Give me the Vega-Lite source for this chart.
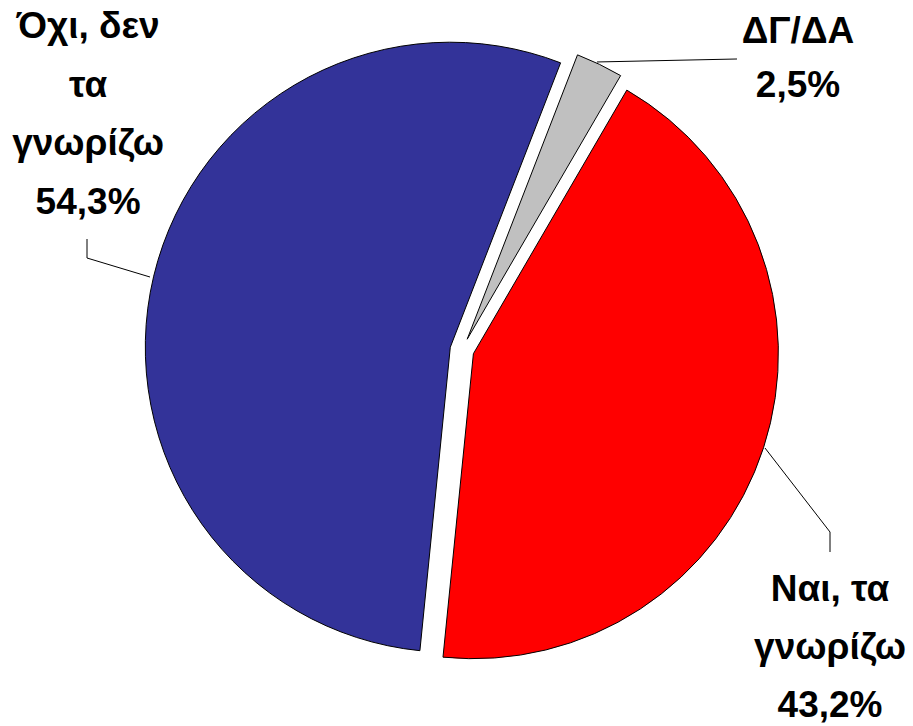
{
  "$schema": "https://vega.github.io/schema/vega-lite/v6.json",
  "width": 902,
  "height": 700,
  "autosize": {"type": "none"},
  "padding": {"left": 11, "top": 0, "right": 0, "bottom": 26},
  "background": "white",
  "config": {"view": {"stroke": null}, "text": {"font": "Liberation Sans"}},
  "data": {"values": [
    {"category": "Ναι, τα γνωρίζω", "key": "yes", "value": 43.2, "order": 1, "label": "Ναι, τα\nγνωρίζω\n43,2%"},
    {"category": "Όχι, δεν τα γνωρίζω", "key": "no", "value": 54.3, "order": 2, "label": "Όχι, δεν\nτα\nγνωρίζω\n54,3%"},
    {"category": "ΔΓ/ΔΑ", "key": "dk", "value": 2.5, "order": 3, "label": "ΔΓ/ΔΑ\n2,5%"}
  ]},
  "transform": [
    {"stack": "value", "groupby": [], "sort": [{"field": "order", "order": "ascending"}], "as": ["v0", "v1"]}
  ],
  "layer": [
    {
      "transform": [{"filter": "datum.key === 'yes'"}],
      "mark": {"type": "arc", "outerRadius": 305, "stroke": "black", "strokeWidth": 1, "xOffset": 11.4, "yOffset": 3.7},
      "encoding": {
        "theta": {"field": "v0", "type": "quantitative", "scale": {"domain": [0, 100], "range": [0.5271, 6.8103]}},
        "theta2": {"field": "v1"},
        "color": {"field": "category", "type": "nominal", "scale": {"domain": ["Ναι, τα γνωρίζω", "Όχι, δεν τα γνωρίζω", "ΔΓ/ΔΑ"], "range": ["#FF0000", "#333399", "#C0C0C0"]}, "legend": null}
      }
    },
    {
      "transform": [{"filter": "datum.key === 'no'"}],
      "mark": {"type": "arc", "outerRadius": 305, "stroke": "black", "strokeWidth": 1, "xOffset": -11.7, "yOffset": -2.8},
      "encoding": {
        "theta": {"field": "v0", "type": "quantitative", "scale": {"domain": [0, 100], "range": [0.5271, 6.8103]}},
        "theta2": {"field": "v1"},
        "color": {"field": "category", "type": "nominal", "scale": {"domain": ["Ναι, τα γνωρίζω", "Όχι, δεν τα γνωρίζω", "ΔΓ/ΔΑ"], "range": ["#FF0000", "#333399", "#C0C0C0"]}, "legend": null}
      }
    },
    {
      "transform": [{"filter": "datum.key === 'dk'"}],
      "mark": {"type": "arc", "outerRadius": 305, "stroke": "black", "strokeWidth": 1, "xOffset": 5.2, "yOffset": -10.8},
      "encoding": {
        "theta": {"field": "v0", "type": "quantitative", "scale": {"domain": [0, 100], "range": [0.5271, 6.8103]}},
        "theta2": {"field": "v1"},
        "color": {"field": "category", "type": "nominal", "scale": {"domain": ["Ναι, τα γνωρίζω", "Όχι, δεν τα γνωρίζω", "ΔΓ/ΔΑ"], "range": ["#FF0000", "#333399", "#C0C0C0"]}, "legend": null}
      }
    },
    {
      "transform": [{"filter": "datum.key === 'no'"}],
      "mark": {"type": "rule", "stroke": "black", "strokeWidth": 1},
      "encoding": {
        "x": {"datum": -1.2295, "type": "quantitative", "scale": {"domain": [-1.4787, 1.4787], "nice": false, "zero": false}, "axis": null},
        "y": {"datum": 0.3639, "type": "quantitative", "scale": {"domain": [-1.1475, 1.1475], "nice": false, "zero": false}, "axis": null},
        "x2": {"datum": -1.2295},
        "y2": {"datum": 0.3016}
      }
    },
    {
      "transform": [{"filter": "datum.key === 'no'"}],
      "mark": {"type": "rule", "stroke": "black", "strokeWidth": 1},
      "encoding": {
        "x": {"datum": -1.2295, "type": "quantitative"},
        "y": {"datum": 0.3016, "type": "quantitative"},
        "x2": {"datum": -1.023},
        "y2": {"datum": 0.2393}
      }
    },
    {
      "transform": [{"filter": "datum.key === 'yes'"}],
      "mark": {"type": "rule", "stroke": "black", "strokeWidth": 1},
      "encoding": {
        "x": {"datum": 0.9934, "type": "quantitative"},
        "y": {"datum": -0.3213, "type": "quantitative"},
        "x2": {"datum": 1.2066},
        "y2": {"datum": -0.5967}
      }
    },
    {
      "transform": [{"filter": "datum.key === 'yes'"}],
      "mark": {"type": "rule", "stroke": "black", "strokeWidth": 1},
      "encoding": {
        "x": {"datum": 1.2066, "type": "quantitative"},
        "y": {"datum": -0.5967, "type": "quantitative"},
        "x2": {"datum": 1.2066},
        "y2": {"datum": -0.6623}
      }
    },
    {
      "transform": [{"filter": "datum.key === 'dk'"}],
      "mark": {"type": "rule", "stroke": "black", "strokeWidth": 1},
      "encoding": {
        "x": {"datum": 0.4426, "type": "quantitative"},
        "y": {"datum": 0.9443, "type": "quantitative"},
        "x2": {"datum": 0.9016},
        "y2": {"datum": 0.9541}
      }
    },
    {
      "transform": [{"filter": "datum.key === 'no'"}],
      "mark": {"type": "text", "fontSize": 37, "fontWeight": "bold", "lineHeight": 58.5, "lineBreak": "\n", "align": "center", "baseline": "middle", "color": "black"},
      "encoding": {
        "x": {"datum": -1.226, "type": "quantitative"},
        "y": {"datum": 1.0574, "type": "quantitative"},
        "text": {"field": "label"}
      }
    },
    {
      "transform": [{"filter": "datum.key === 'yes'"}],
      "mark": {"type": "text", "fontSize": 37, "fontWeight": "bold", "lineHeight": 58, "lineBreak": "\n", "align": "center", "baseline": "middle", "color": "black"},
      "encoding": {
        "x": {"datum": 1.2066, "type": "quantitative"},
        "y": {"datum": -0.7869, "type": "quantitative"},
        "text": {"field": "label"}
      }
    },
    {
      "transform": [{"filter": "datum.key === 'dk'"}],
      "mark": {"type": "text", "fontSize": 37, "fontWeight": "bold", "lineHeight": 54, "lineBreak": "\n", "align": "center", "baseline": "middle", "color": "black"},
      "encoding": {
        "x": {"datum": 1.1016, "type": "quantitative"},
        "y": {"datum": 1.041, "type": "quantitative"},
        "text": {"field": "label"}
      }
    }
  ]
}
